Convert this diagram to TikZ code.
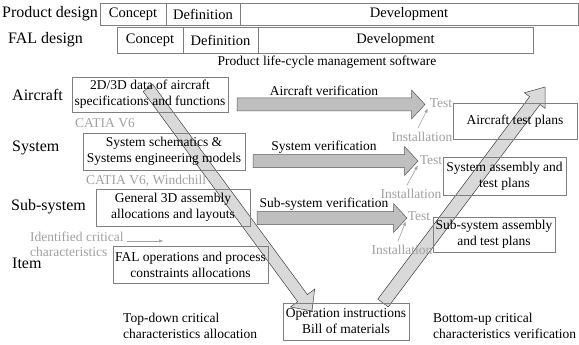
\documentclass[tikz,border=0pt]{standalone}
\usepackage{fontspec}
\setmainfont{Liberation Serif}
\usetikzlibrary{calc,arrows.meta}
\definecolor{lblgray}{HTML}{A0A0A0}
\definecolor{hfill}{HTML}{BFBFBF}
\definecolor{hline}{HTML}{595959}
\definecolor{dfill}{HTML}{D9D9D9}
\definecolor{dline}{HTML}{404040}
\definecolor{boxline}{HTML}{7F7F7F}
\newcommand\fatarrow[6]{%
  \coordinate (hb) at ($(#2)!#5pt!(#1)$);
  \draw[#6] ($(#1)!#3pt!90:(#2)$) -- ($(hb)!#3pt!-90:(#1)$) -- ($(hb)!#4pt!-90:(#1)$) -- (#2)
    -- ($(hb)!#4pt!90:(#1)$) -- ($(hb)!#3pt!90:(#1)$) -- ($(#1)!#3pt!-90:(#2)$) -- cycle;}
\begin{document}
\begin{tikzpicture}[x=1pt,y=-1pt,
  lab/.style={font=\fontsize{16}{18}\selectfont, anchor=west, inner sep=0pt},
  cell/.style={draw=boxline, line width=0.6pt, align=center, inner sep=0pt, font=\fontsize{14.5}{16}\selectfont},
  box/.style={draw=boxline, line width=0.6pt, align=center, inner sep=0pt, font=\fontsize{13.5}{16}\selectfont},
  glab/.style={text=lblgray, align=center, inner sep=0pt, font=\fontsize{13.5}{15}\selectfont},
  ptext/.style={inner sep=0pt, font=\fontsize{13.5}{16}\selectfont},
  harrow/.style={fill=hfill, draw=hline, line width=0.5pt},
  darrow/.style={fill=dfill, draw=dline, line width=0.5pt},
  smallarr/.style={draw=lblgray, line width=0.6pt, -{Triangle[length=4pt,width=3pt]}}]
\useasboundingbox (0,0) rectangle (579,345);

% header rows
\node[lab] (lpd) at (2,14) {Product design};
\node[cell, minimum width=66pt, minimum height=22pt] (pc) at (133,14) {Concept};
\node[cell, minimum width=74pt, minimum height=22pt] (pdf) at (203,14) {Definition};
\node[cell, minimum width=338pt, minimum height=22pt] (pdv) at (409,14) {Development};
\node[lab] (lfal) at (8,40) {FAL design};
\node[cell, minimum width=66pt, minimum height=26pt] (fc) at (150,40) {Concept};
\node[cell, minimum width=75pt, minimum height=26pt] (fdf) at (220.5,40) {Definition};
\node[cell, minimum width=275pt, minimum height=26pt] (fdv) at (395.5,40) {Development};
\node[ptext] (plm) at (327,62) {Product life-cycle management software};

% level labels
\node[lab] (lac) at (12,95) {Aircraft};
\node[lab] (lsys) at (12,148) {System};
\node[lab] (lsub) at (11,207) {Sub-system};
\node[lab] (litem) at (12,263) {Item};

% horizontal verification arrows
\coordinate (ha1) at (237,104.5); \coordinate (hb1) at (425,104.5);
\coordinate (ha2) at (253,161);   \coordinate (hb2) at (418,161);
\coordinate (ha3) at (257,218);   \coordinate (hb3) at (407,218);
\fatarrow{ha1}{hb1}{6.5}{14.5}{13.5}{harrow}
\fatarrow{ha2}{hb2}{6.5}{14.5}{13.5}{harrow}
\fatarrow{ha3}{hb3}{6.5}{14.5}{13.5}{harrow}

% diagonal arrows
\coordinate (da) at (148,88);  \coordinate (db) at (312,311);
\coordinate (ua) at (383,303); \coordinate (ub) at (545,87);
\fatarrow{da}{db}{6}{15}{16}{darrow}
\fatarrow{ua}{ub}{6.5}{13}{17}{darrow}

% left boxes
\node[box, minimum width=156pt, minimum height=35pt] (b1) at (150,94.5) {2D/3D data of aircraft\\specifications and functions};
\node[box, minimum width=162pt, minimum height=37pt] (b2) at (164,151.5) {System schematics \&\\Systems engineering models};
\node[box, minimum width=154pt, minimum height=37pt] (b3) at (173,207.5) {General 3D assembly\\allocations and layouts};
\node[box, minimum width=155pt, minimum height=37pt] (b4) at (190.5,264.5) {FAL operations and process\\constraints allocations};
\node[box, minimum width=126pt, minimum height=37pt] (b5) at (346,321.5) {Operation instructions\\Bill of materials};

% right boxes
\node[box, minimum width=124pt, minimum height=36pt] (r1) at (515,121) {Aircraft test plans};
\node[box, minimum width=123pt, minimum height=38pt] (r2) at (504.5,176) {System assembly and\\test plans};
\node[box, minimum width=122pt, minimum height=35pt] (r3) at (494,234.5) {Sub-system assembly\\and test plans};

% arrow labels
\node[ptext] (va) at (324,91) {Aircraft verification};
\node[ptext] (vs) at (324,147) {System verification};
\node[ptext] (vss) at (324,204) {Sub-system verification};

% gray tool labels
\node[glab, anchor=west] (cat1) at (75,123) {CATIA V6};
\node[glab, anchor=west] (cat2) at (86,181) {CATIA V6, Windchill};
\node[glab, anchor=west, align=left] (icc) at (30,244.5) {Identified critical\\characteristics};
\coordinate (iccend) at (163,241);
\draw[smallarr] (127,241) -- (iccend);

% test / installation
\node[glab] (t1) at (441,103) {Test};
\node[glab] (i1) at (422,137) {Installation};
\node[glab] (t2) at (431,160) {Test};
\node[glab] (i2) at (411,194) {Installation};
\node[glab] (t3) at (419,216) {Test};
\node[glab] (i3) at (402,250) {Installation};
\draw[smallarr] ($(i1.north)+(-4,-4)$) -- ($(t1.south west)+(-2,1)$);
\draw[smallarr] ($(i2.north)+(-4,-4)$) -- ($(t2.south west)+(-2,1)$);
\draw[smallarr] ($(i3.north)+(-4,-4)$) -- ($(t3.south west)+(-2,1)$);

% bottom texts
\node[ptext, anchor=west, align=left] (td) at (123,325.5) {Top-down critical\\characteristics allocation};
\node[ptext, anchor=west, align=left] (bu) at (433,325.5) {Bottom-up critical\\characteristics verification};
\end{tikzpicture}
\end{document}
